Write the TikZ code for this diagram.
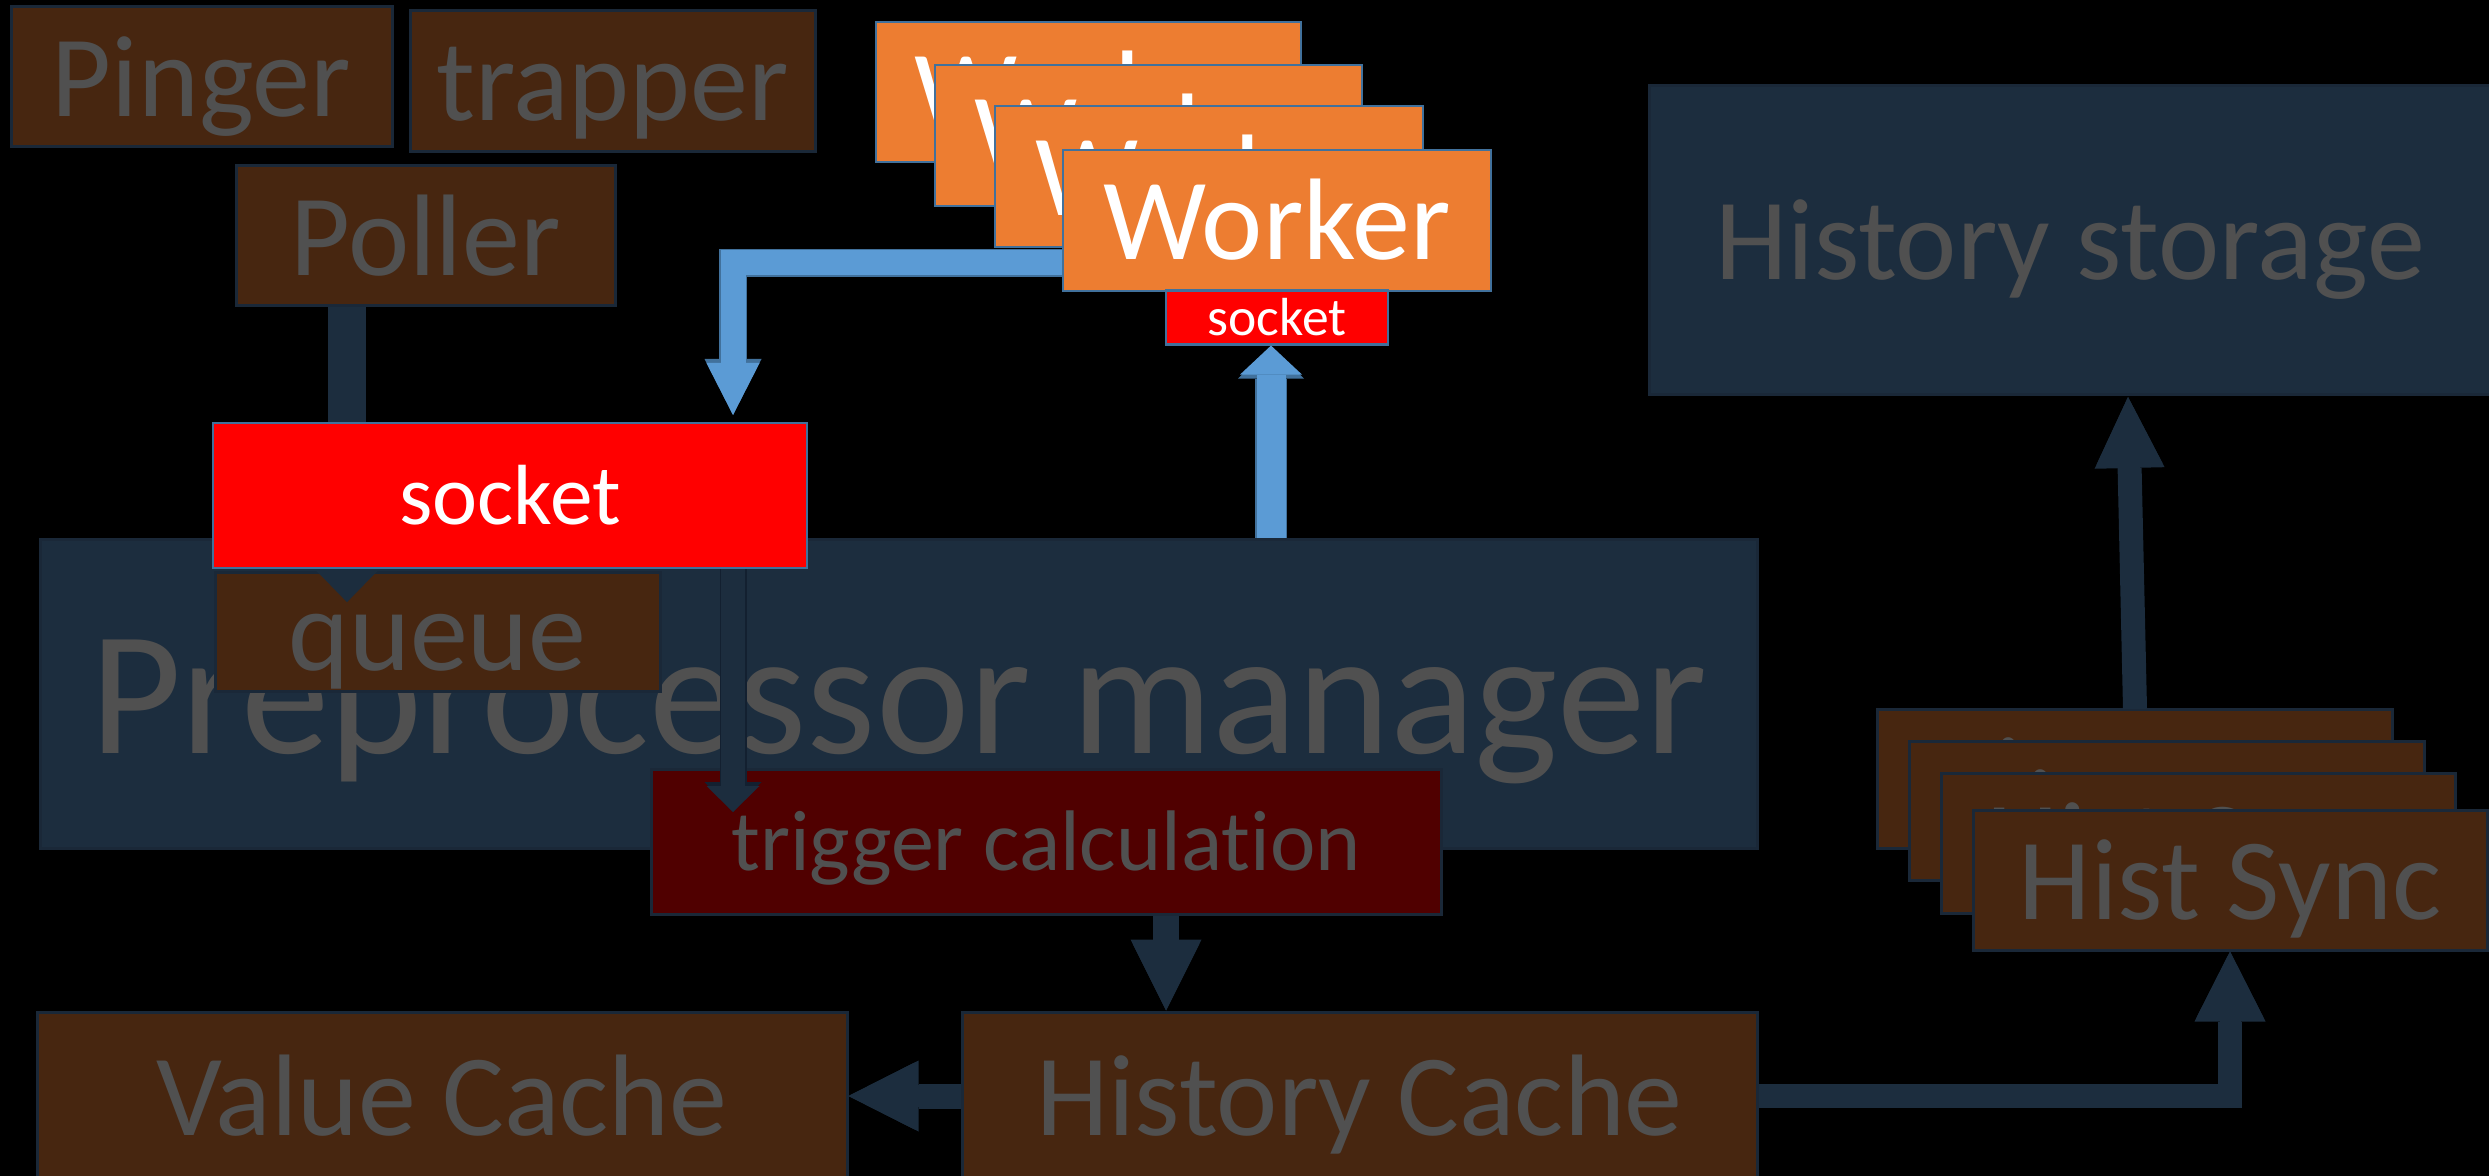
\documentclass[tikz,border=0pt]{standalone}
\usepackage{fontspec}
\setmainfont{Carlito}[Ligatures=NoCommon]
\usetikzlibrary{arrows.meta}
\definecolor{brownf}{HTML}{472610}
\definecolor{navy}{HTML}{1C2D3E}
\definecolor{edge}{HTML}{1A2838}
\definecolor{darkred}{HTML}{500000}
\definecolor{tgray}{HTML}{505050}
\definecolor{orangef}{HTML}{ED7D31}
\definecolor{redf}{HTML}{FF0000}
\definecolor{blueedge}{HTML}{41719C}
\definecolor{bluef}{HTML}{5B9BD5}
\definecolor{navyedge}{HTML}{132030}
\newcommand\pbox[7]{\node[#1, minimum width={(#5-#3)*0.5pt}, minimum height={(#6-#4)*0.5pt}] (#2) at ({(#3+#5)/2},{(#4+#6)/2}) {#7};}
\newcommand\oarrow[6]{%
  \pgfmathsetmacro\oaW{#3+1.5}\pgfmathsetmacro\oaHW{#4+2}\pgfmathsetmacro\oaHL{#5+2}%
  \draw[line width=\oaW pt, draw=#2, line join=miter, -{Triangle[width=\oaHW pt, length=\oaHL pt, line width=0pt]}] #6;
  \draw[line width=#3pt, draw=#1, line join=miter, -{Triangle[width=#4pt, length=#5pt, line width=0pt]}] #6;}
\tikzset{
  fA/.style={font=\fontsize{58pt}{58pt}\selectfont, text height=48.7pt, text depth=9.3pt},
  fP/.style={font=\fontsize{88.5pt}{88.5pt}\selectfont, text height=74.3pt, text depth=14.2pt},
  fS/.style={font=\fontsize{26.8pt}{26.8pt}\selectfont, text height=22.5pt, text depth=4.3pt},
  fB/.style={font=\fontsize{42.7pt}{42.7pt}\selectfont, text height=35.9pt, text depth=6.8pt},
  fT/.style={font=\fontsize{43pt}{43pt}\selectfont, text height=36.1pt, text depth=6.9pt},
  basebox/.style={rectangle, inner sep=0pt, line width=1.5pt},
  brownbox/.style={basebox, draw=edge, fill=brownf, text=tgray, fA},
  navybox/.style={basebox, draw=edge, fill=navy, text=tgray},
  trigbox/.style={basebox, draw=edge, fill=darkred, text=tgray, fT},
  workerbox/.style={basebox, line width=1.3pt, draw=blueedge, fill=orangef, text=white, fA},
  sockbox/.style={basebox, line width=1.3pt, draw=blueedge, fill=redf, text=white},
}
\begin{document}
\begin{tikzpicture}[x=0.5pt,y=-0.5pt]
\useasboundingbox (0,0) rectangle (2489,1176);
\fill[black] (0,0) rectangle (2489,1176);
% reference coordinates
\coordinate (xp) at (347,0);
\coordinate (xa) at (733,0);
\coordinate (xb) at (1271,0);
\coordinate (xt) at (1166,0);
\coordinate (wy) at (0,263);
\coordinate (btip) at (733,415);
\coordinate (qtip) at (347,602);
\coordinate (ttip) at (733,812);
\coordinate (hsfrom) at (2135,709);
\coordinate (hsto) at (2128,397);
% top row
\pbox{navybox, fA}{store}{1649}{86}{2491}{395}{History storage}
\pbox{brownbox}{pinger}{11}{7}{392}{147}{Pinger}
\pbox{brownbox}{trapper}{410}{11}{815}{152}{trapper}
\pbox{brownbox}{poller}{236}{166}{615}{306}{Poller}
% workers
\pbox{workerbox}{w1}{876}{22}{1301}{162}{Worker}
\pbox{workerbox}{w2}{935}{65}{1362}{206}{Worker}
\pbox{workerbox}{w3}{995}{106}{1423}{247}{Worker}
\pbox{workerbox}{w4}{1063}{150}{1491}{291}{Worker}
\pbox{sockbox, fS}{ssock}{1166}{291}{1388}{344}{socket}
% worker -> socket
\oarrow{bluef}{blueedge}{12.5}{26.5}{26}{(w4.west |- wy) -| (btip)}
% preprocessor manager
\pbox{navybox, fP}{pm}{40}{539}{1757}{848}{Preprocessor manager}
\pbox{brownbox}{queue}{215}{572}{660}{691}{queue}
\oarrow{navy}{navy}{17.5}{33.5}{17}{(poller.south -| xp) -- (qtip)}
\pbox{sockbox, fB}{bsock}{213}{423}{807}{568}{socket}
\oarrow{bluef}{blueedge}{14.5}{31}{14.5}{(pm.north -| xb) -- (ssock.south -| xb)}
\pbox{trigbox}{trig}{651}{769}{1441}{914}{trigger calculation}
\oarrow{navy}{navyedge}{12}{26.5}{13}{(bsock.south -| xa) -- (ttip)}
% caches
\pbox{brownbox}{vc}{37}{1012}{847}{1180}{Value Cache}
\pbox{brownbox}{hc}{962}{1012}{1757}{1180}{History Cache}
\oarrow{navy}{navy}{11.5}{33.5}{33.5}{(trig.south -| xt) -- (hc.north -| xt)}
\oarrow{navy}{navy}{11}{33.5}{33}{(hc.west) -- (vc.east)}
% hist sync
\pbox{brownbox}{hsa}{1877}{709}{2392}{848}{Hist Sync}
\pbox{brownbox}{hsb}{1909}{741}{2424}{880}{Hist Sync}
\pbox{brownbox}{hsc}{1941}{773}{2455}{913}{Hist Sync}
\pbox{brownbox}{hsd}{1973}{810}{2487}{950}{Hist Sync}
\oarrow{navy}{navy}{10.5}{33.5}{33}{(hc.east) -| (hsd.south)}
\oarrow{navy}{navy}{10.5}{33}{33.5}{(hsfrom) -- (hsto)}
\end{tikzpicture}
\end{document}
